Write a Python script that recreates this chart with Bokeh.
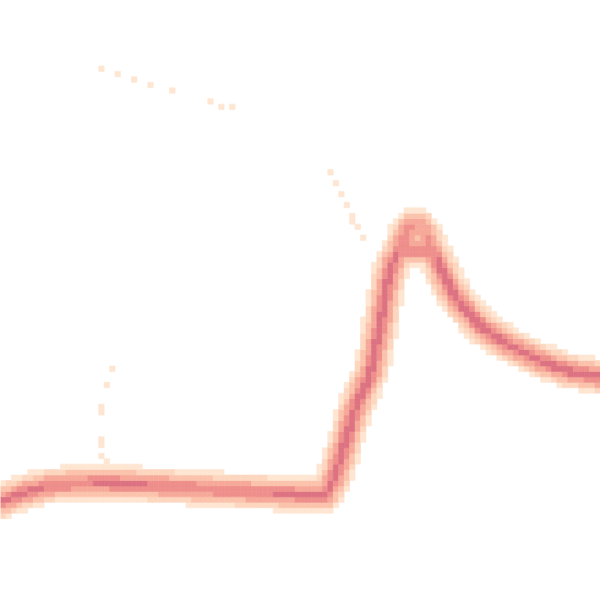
import numpy as np
from bokeh.plotting import figure
from bokeh.models import Range1d, ColumnDataSource
from bokeh.embed import file_html
from bokeh.resources import INLINE

# ---- data (arbitrary units, 0..600 on both axes, y upward) ----
main_x = [0, 15, 30, 45, 60, 90, 120, 140, 200, 250, 300, 325, 333, 342, 353, 362, 370, 377, 382, 387,
          392, 400, 406, 412, 418, 425, 432, 438, 450, 460, 473, 483, 497, 510, 540, 567, 600]
main_y = [99, 105, 110, 114, 116, 118, 117, 116, 112, 109, 106, 106, 120, 148, 187, 210, 227, 260, 287, 317,
          337, 352, 368, 376, 376, 368, 350, 338, 312, 297, 283, 272, 263, 255, 240, 230, 224]
main_w = [0.95, 0.95, 0.95, 0.9, 0.85, 0.85, 0.95, 0.9, 0.85, 0.85, 0.9, 0.95, 0.95, 1.0, 1.0, 1.0, 1.0, 1.0, 1.0, 1.0,
          0.95, 0.85, 0.8, 0.6, 0.55, 0.6, 0.8, 0.95, 1.0, 1.0, 1.0, 1.0, 1.0, 1.0, 1.0, 1.0, 1.0]

loop_x = [406, 432]
loop_y = [350, 350]
loop_w = [0.75, 0.75]

dots_x = [100, 116, 132, 148, 170, 208, 222, 230,
          332, 337, 343, 348, 354, 354, 359, 365,
          111, 105, 100, 100, 100, 100, 103, 106]
dots_y = [533, 527, 522, 517, 511, 500, 495, 495,
          430, 419, 408, 398, 386, 381, 373, 365,
          230, 214, 195, 188, 163, 158, 145, 140]

levels = [0.012, 0.045, 0.13, 0.32, 0.60, 0.86]
palette = ["#fee6d2", "#fdd6bf", "#fbc3ac", "#f7a999", "#ef8f8b", "#dc7282"]

# ---- raster aggregation ----
N = 110
cell = 600.0 / N
cx = (np.arange(N) + 0.5) * cell
X, Y = np.meshgrid(cx, cx)
P = np.stack([X.ravel(), Y.ravel()], axis=1)
sigma = 6.0


def track(xs, ys, ws):
    out = np.zeros(len(P))
    for i in range(len(xs) - 1):
        A = np.array([xs[i], ys[i]], float)
        B = np.array([xs[i + 1], ys[i + 1]], float)
        AB = B - A
        L2 = AB @ AB
        t = np.clip(((P - A) @ AB) / L2, 0, 1)
        Q = A + t[:, None] * AB
        d2 = ((P - Q) ** 2).sum(axis=1)
        w = ws[i] + t * (ws[i + 1] - ws[i])
        out = np.maximum(out, w * np.exp(-d2 / (2 * sigma ** 2)))
    return out


agg = np.maximum(track(main_x, main_y, main_w), track(loop_x, loop_y, loop_w))
agg = agg.reshape(N, N)
for dx, dy in zip(dots_x, dots_y):
    i = int(dy // cell)
    j = int(dx // cell)
    agg[i, j] = max(agg[i, j], 0.02)

lv = np.digitize(agg, levels)  # 0 = empty
rows, cols = np.nonzero(lv)
src = ColumnDataSource(dict(
    left=cols * cell, right=(cols + 1) * cell,
    bottom=rows * cell, top=(rows + 1) * cell,
    color=[palette[k - 1] for k in lv[rows, cols]],
))

p = figure(width=600, height=600, x_range=Range1d(0, 600), y_range=Range1d(0, 600),
           output_backend="svg", toolbar_location=None, min_border=0)
p.axis.visible = False
p.grid.visible = False
p.outline_line_color = None
p.background_fill_color = "white"
p.border_fill_color = "white"
p.quad(left="left", right="right", bottom="bottom", top="top", source=src,
       fill_color="color", line_color="color", line_width=0.6)

open("out.html", "w").write(file_html(p, INLINE))
